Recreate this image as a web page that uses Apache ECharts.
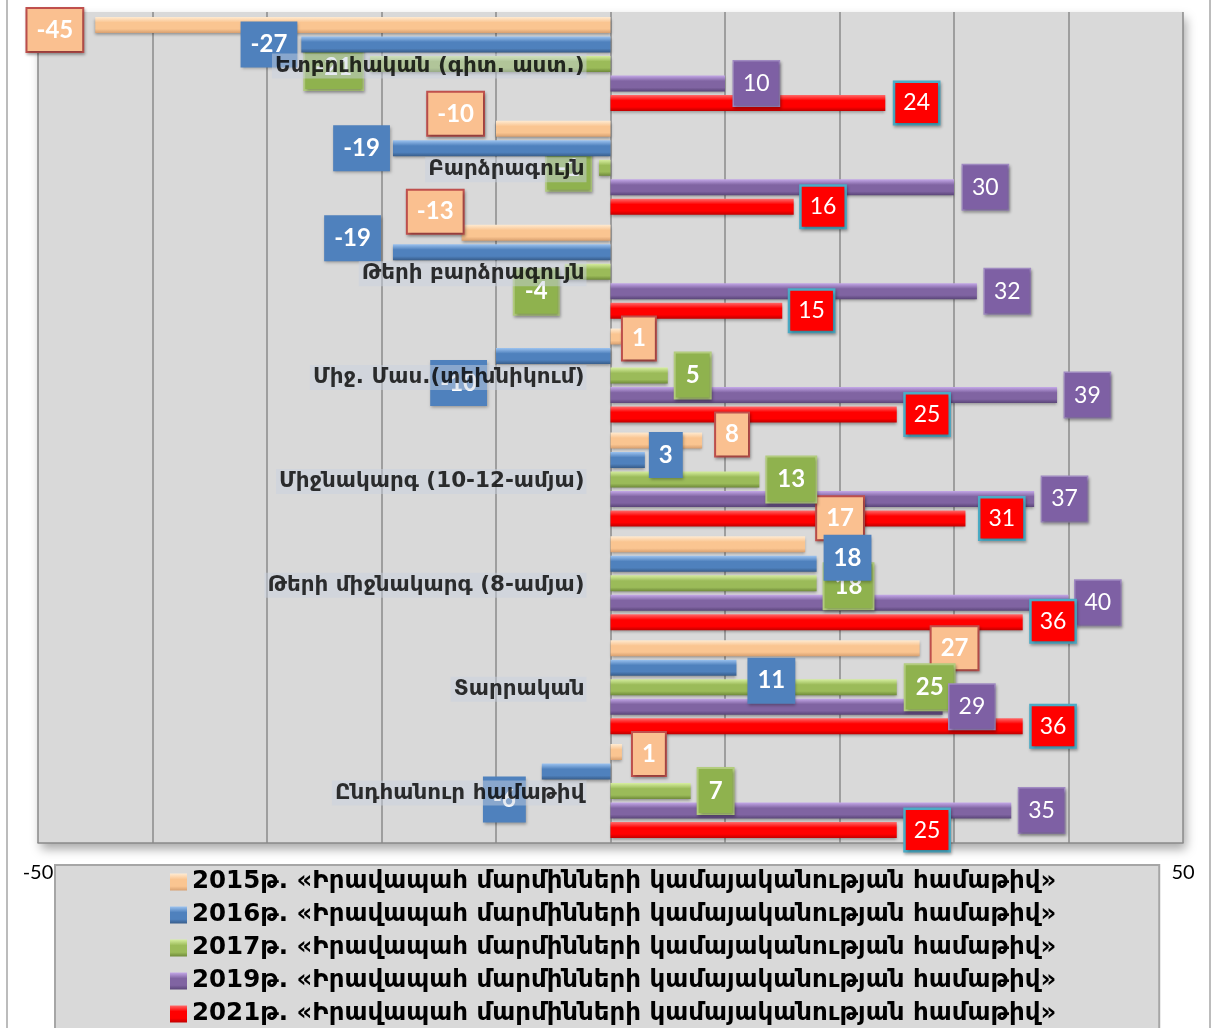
<!DOCTYPE html>
<html>
<head>
<meta charset="utf-8">
<style>
html,body{margin:0;padding:0;background:#fff;}
#c{width:1213px;height:1028px;}
</style>
<script src="https://cdn.jsdelivr.net/npm/echarts@6/dist/echarts.min.js"></script>
</head>
<body>
<div id="c"></div>
<script>
const categories = [
  'Ետբուհական (գիտ. աստ.)',
  'Բարձրագույն',
  'Թերի բարձրագույն',
  'Միջ. Մաս.(տեխնիկում)',
  'Միջնակարգ (10-12-ամյա)',
  'Թերի միջնակարգ (8-ամյա)',
  'Տարրական',
  'Ընդհանուր համաթիվ'
];
const seriesNames = [
  '2015թ. «Իրավապահ մարմինների կամայականության համաթիվ»',
  '2016թ. «Իրավապահ մարմինների կամայականության համաթիվ»',
  '2017թ. «Իրավապահ մարմինների կամայականության համաթիվ»',
  '2019թ. «Իրավապահ մարմինների կամայականության համաթիվ»',
  '2021թ. «Իրավապահ մարմինների կամայականության համաթիվ»'
];
const v2015 = [-45, -10, -13, 1, 8, 17, 27, 1];
const v2016 = [-27, -19, -19, -10, 3, 18, 11, -6];
const v2017 = [-21, -1, -4, 5, 13, 18, 25, 7];
const v2019 = [10, 30, 32, 39, 37, 40, 29, 35];
const v2021 = [24, 16, 15, 25, 31, 36, 36, 25];
const xMin = -50, xMax = 50, xStep = 10;

// label nudges [dx, dy] (positive dx = away from the bar end)
const nudges = [
  [[5,5],[5,-15],[-9,-21],[-7,2],[6,-6],[4,-26],[4,0],[3,2]],
  [[-4,0],[-5,0],[4,-14],[1,27],[-4,-5],[-1,-6],[3,13],[8,28]],
  [[0,3],[1,0],[-1,20],[0,0],[0,0],[0,3],[1,0],[0,0]],
  [[1,0],[1,0],[0,0],[0,0],[0,0],[-1,0],[-1,0],[0,0]],
  [[2,0],[0,0],[0,0],[1,0],[7,0],[1,-1],[1,0],[1,0]]
];

const NUMFONT = "Lato, 'Noto Sans', 'DejaVu Sans', sans-serif";
const TXTFONT = "'DejaVu Sans', 'Noto Sans', sans-serif";

function grad(light, base, dark) {
  return new echarts.graphic.LinearGradient(0, 0, 0, 1, [
    {offset: 0, color: light},
    {offset: 0.35, color: base},
    {offset: 0.75, color: base},
    {offset: 1, color: dark}
  ]);
}
const barColors = [
  grad('#FFEBD2', '#FAC591', '#D8A070'),
  grad('#9CC3F0', '#4F81BD', '#385D8A'),
  grad('#D7EFA0', '#9BBB59', '#6F8A3A'),
  grad('#C4A8E8', '#8064A2', '#5A4578'),
  grad('#FF6A6A', '#FF0000', '#C00000')
];
const labelStyles = [
  {backgroundColor: '#FAC090', borderColor: '#C0504D', borderWidth: 2, fontWeight: 'bold', fontSize: 24, padding: [8, 9, 8, 9]},
  {backgroundColor: '#4F81BD', borderColor: '#4F81BD', borderWidth: 0, fontWeight: 'bold', fontSize: 24, padding: [10, 10, 10, 10]},
  {backgroundColor: '#8FB24E', borderColor: '#B3CD7E', borderWidth: 2, fontWeight: 'bold', fontSize: 24, padding: [9, 10, 9, 10]},
  {backgroundColor: '#7E60A4', borderColor: '#A08AC2', borderWidth: 1.5, fontWeight: 'normal', fontSize: 23, padding: [9, 9, 9, 9]},
  {backgroundColor: '#FF0000', borderColor: '#4BACC6', borderWidth: 2.5, fontWeight: 'normal', fontSize: 23, padding: [7, 8, 7, 8]}
];
const allValues = [v2015, v2016, v2017, v2019, v2021];

const series = allValues.map(function (vals, si) {
  return {
    name: seriesNames[si],
    type: 'bar',
    barWidth: 16,
    barGap: '22%',
    z: si === 1 ? 3 : 2,
    itemStyle: {
      color: barColors[si],
      shadowBlur: 3,
      shadowColor: 'rgba(0,0,0,0.35)',
      shadowOffsetY: 2
    },
    label: Object.assign({
      show: true,
      color: '#ffffff',
      fontFamily: NUMFONT,
      distance: 8,
      lineHeight: 26,
      shadowBlur: 3,
      shadowColor: 'rgba(0,0,0,0.3)',
      shadowOffsetX: 1,
      shadowOffsetY: 2
    }, labelStyles[si]),
    data: vals.map(function (v, i) {
      const n = nudges[si][i];
      const neg = v < 0;
      return {
        value: v,
        label: {
          position: neg ? 'left' : 'right',
          offset: [neg ? -n[0] : n[0], n[1]]
        }
      };
    })
  };
});

// category names placed at the zero line of the value axis
series.push({
  name: 'categoryNames',
  type: 'scatter',
  z: 20,
  silent: true,
  symbolSize: 0,
  itemStyle: {color: 'rgba(0,0,0,0)'},
  label: {
    show: true,
    position: 'left',
    distance: 24,
    offset: [0, 2],
    formatter: function (p) { return categories[p.dataIndex]; },
    fontFamily: TXTFONT,
    fontWeight: 'bold',
    fontSize: 21.5,
    color: '#000000',
    backgroundColor: 'rgba(200,208,224,0.6)',
    padding: [2, 2, 1, 3]
  },
  data: categories.map(function (c) { return [0, c]; })
});

const chart = echarts.init(document.getElementById('c'), null, {renderer: 'canvas'});
chart.setOption({
  animation: false,
  backgroundColor: '#ffffff',
  graphic: [{
    type: 'rect',
    shape: {x: 7, y: -5, width: 1203, height: 1045},
    style: {fill: 'none', stroke: '#a6a6a6', lineWidth: 1.5},
    z: -1, silent: true
  }],
  grid: {
    left: 38, right: 30, top: 12, bottom: 185,
    containLabel: false,
    outerBoundsMode: 'none',
    show: true,
    backgroundColor: '#D9D9D9',
    borderWidth: 0,
    shadowBlur: 10,
    shadowColor: 'rgba(0,0,0,0.35)',
    shadowOffsetX: 3,
    shadowOffsetY: 6
  },
  legend: {
    orient: 'vertical',
    left: 55,
    top: 865,
    height: 180,
    z: 6,
    backgroundColor: '#D9D9D9',
    borderColor: '#A6A6A6',
    borderWidth: 2,
    padding: [4, 103, 20, 115],
    itemGap: 7,
    itemWidth: 17,
    itemHeight: 17,
    icon: 'rect',
    selectedMode: false,
    data: seriesNames,
    textStyle: {
      fontFamily: TXTFONT,
      fontWeight: 'bold',
      fontSize: 24.5,
      lineHeight: 26,
      color: '#000000'
    }
  },
  xAxis: {
    type: 'value',
    min: xMin, max: xMax, interval: xStep,
    axisLine: {show: true, lineStyle: {color: '#8a8a8a', width: 1.5}},
    axisTick: {show: false},
    splitLine: {show: true, lineStyle: {color: '#8a8a8a', width: 1.5}},
    axisLabel: {
      fontFamily: NUMFONT,
      fontSize: 20,
      color: '#000000',
      margin: 20
    }
  },
  yAxis: {
    type: 'category',
    inverse: true,
    data: categories,
    axisLine: {show: false},
    axisTick: {show: false},
    splitLine: {show: false},
    axisLabel: {show: false}
  },
  series: series
});
</script>
</body>
</html>
